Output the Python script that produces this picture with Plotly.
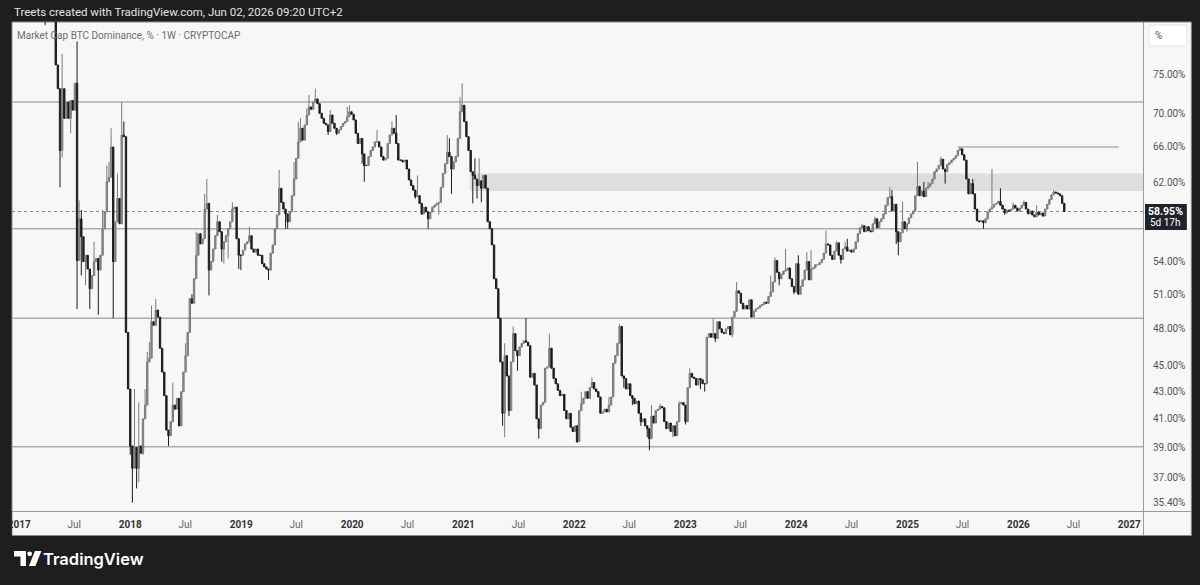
import math
import pandas as pd
import plotly.graph_objects as go

# ---------------- data (weekly candles, BTC dominance %) ----------------
first_week = "2017-03-27"
first_open = 86.0

closes_2017 = [85.5, 85.0, 84.6, 84.0, 83.4, 76.2, 73.1, 65.6, 73.1, 69.4, 71.4, 69.4, 71.6, 70.4,
               73.8, 54.1, 58.2, 56.4, 54.0, 54.6, 53.3, 51.5, 52.7, 54.0, 54.3, 53.2, 54.6, 57.2,
               58.9, 62.1, 62.6, 66.0, 54.0, 57.9, 60.3, 57.7, 67.4, 67.2, 47.7, 43.2]
closes_2018 = [39.1, 37.6, 39.0, 37.6, 39.1, 38.6, 41.0, 42.0, 45.3, 45.6, 48.6, 48.3, 49.6, 49.0,
               46.4, 44.5, 42.7, 40.2, 39.8, 40.8, 42.0, 41.7, 42.5, 40.5, 43.0, 44.5, 45.8, 47.7,
               50.6, 50.2, 52.4, 54.6, 56.7, 55.7, 56.2, 59.2, 59.8, 53.2, 54.0, 55.2, 56.5, 57.9,
               56.9, 55.2, 55.9, 56.5, 57.2, 57.9, 59.2, 59.4, 56.2, 54.6, 54.6]
closes_2019 = [55.1, 55.7, 55.9, 56.5, 55.2, 54.9, 55.2, 54.6, 54.6, 53.8, 53.5, 53.3, 53.2, 54.8,
               55.6, 57.2, 58.6, 61.4, 59.9, 59.2, 58.7, 57.9, 58.9, 60.6, 62.4, 64.7, 66.6, 68.2,
               66.8, 68.6, 69.8, 70.8, 70.5, 71.4, 71.8, 71.2, 70.0, 69.4, 68.8, 68.6, 67.8, 69.8,
               68.8, 68.2, 67.6, 68.0, 68.4, 68.8, 69.0, 69.6, 70.2, 69.9]
closes_2020 = [69.2, 67.6, 66.4, 67.0, 65.2, 63.9, 63.9, 64.9, 65.6, 66.0, 66.6, 66.6, 66.0, 64.9,
               64.5, 64.7, 66.4, 67.4, 68.2, 67.6, 66.4, 64.5, 64.5, 64.3, 64.5, 63.5, 62.3, 61.7,
               61.2, 60.5, 60.6, 59.8, 58.7, 59.4, 58.9, 58.2, 58.9, 59.4, 59.6, 59.8, 59.9, 61.5,
               63.0, 64.1, 65.4, 64.9, 63.5, 64.3, 64.9, 67.0, 70.2, 71.0]
closes_2021 = [69.0, 67.2, 65.6, 63.2, 62.8, 62.4, 61.7, 62.2, 61.4, 62.8, 61.4, 57.9, 57.2, 55.6,
               52.4, 51.5, 48.9, 45.3, 41.4, 45.8, 44.2, 41.6, 45.3, 47.6, 46.2, 45.8, 46.5, 46.8,
               47.0, 46.9, 46.6, 44.1, 44.4, 43.5, 41.0, 40.3, 42.0, 42.2, 44.8, 44.9, 46.4, 44.8,
               44.0, 43.6, 43.1, 42.7, 42.8, 41.6, 41.0, 41.4, 40.4, 40.1]
closes_2022 = [40.5, 39.4, 41.6, 42.1, 42.5, 43.0, 42.5, 43.3, 43.7, 43.2, 43.0, 42.6, 41.4, 41.5,
               41.7, 41.5, 42.0, 42.6, 45.2, 45.8, 46.8, 48.2, 44.2, 44.0, 43.2, 43.6, 42.7, 42.5,
               42.1, 42.3, 41.4, 40.8, 41.0, 40.5, 40.3, 39.6, 41.2, 40.7, 41.6, 41.7, 41.9, 41.8,
               40.8, 40.3, 40.7, 40.1, 40.5, 39.8, 40.8, 42.1, 42.2, 42.0]
closes_2023 = [40.8, 43.3, 44.4, 44.1, 44.0, 43.5, 44.0, 43.9, 43.6, 43.6, 47.3, 47.6, 47.3, 47.6,
               47.2, 48.6, 48.0, 47.7, 47.6, 48.0, 48.2, 47.5, 49.0, 49.5, 51.3, 51.1, 50.2, 49.7,
               50.0, 49.7, 50.5, 49.0, 49.5, 49.7, 49.8, 50.0, 50.1, 50.3, 50.2, 50.8, 51.2, 52.1,
               54.1, 53.0, 52.4, 52.8, 53.1, 53.2, 53.4, 52.4, 51.7, 51.2]
closes_2024 = [53.8, 51.0, 51.7, 52.3, 53.2, 54.0, 52.3, 53.3, 53.4, 53.7, 53.7, 53.9, 54.2, 54.8,
               55.7, 55.6, 54.6, 54.2, 55.0, 55.8, 54.6, 54.2, 55.2, 55.4, 55.0, 55.1, 54.9, 55.2,
               55.9, 56.7, 57.3, 57.5, 56.9, 57.4, 57.0, 56.9, 57.7, 58.2, 57.3, 57.9, 58.2, 58.7,
               59.6, 60.4, 60.5, 59.0, 59.7, 56.9, 55.9, 56.8, 57.9, 57.2, 57.7]
closes_2025 = [58.3, 58.7, 59.0, 60.6, 61.6, 60.6, 61.1, 60.5, 61.4, 61.6, 61.9, 62.4, 63.2, 63.5,
               63.9, 64.6, 63.5, 63.2, 64.0, 64.2, 64.5, 64.7, 65.0, 65.6, 65.8, 65.1, 64.5, 62.4,
               60.8, 61.9, 60.8, 59.2, 58.0, 57.9, 58.0, 57.8, 58.2, 58.9, 59.2, 59.4, 59.7, 59.8,
               60.0, 59.6, 59.2, 58.8, 59.1, 59.0, 59.2, 59.6, 59.3, 59.0]
closes_2026 = [59.3, 59.6, 59.9, 59.2, 58.7, 59.0, 58.6, 58.4, 58.9, 58.6, 58.8, 58.5, 59.2, 59.7,
               60.2, 60.7, 61.0, 60.9, 60.8, 60.6, 59.8, 58.95]

# wicks that reach beyond the candle body (week start -> value)
wick_highs = {
    "2017-05-22": 77.7, "2017-07-10": 79.4, "2017-07-17": 60.1, "2017-07-24": 59.1,
    "2017-09-04": 55.9, "2017-10-02": 59.1, "2017-10-16": 63.9, "2017-10-23": 64.3,
    "2017-10-30": 68.2, "2017-11-20": 63.0, "2017-12-04": 71.4, "2017-12-11": 69.0,
    "2018-01-15": 43.2, "2018-01-29": 42.2, "2018-02-19": 43.2, "2018-02-26": 46.1,
    "2018-03-05": 46.9, "2018-03-12": 50.0, "2018-03-26": 50.6, "2018-05-21": 43.7,
    "2018-07-02": 46.8, "2018-07-23": 51.0, "2018-08-06": 56.9, "2018-09-03": 60.8,
    "2018-09-10": 62.4, "2018-10-15": 58.6, "2018-12-03": 59.9,
    "2019-01-28": 57.4, "2019-05-06": 63.4, "2019-06-24": 64.3, "2019-07-08": 69.0,
    "2019-07-15": 69.4, "2019-08-05": 70.6, "2019-08-12": 72.3, "2019-09-02": 73.1,
    "2019-10-21": 70.4, "2019-12-16": 70.8, "2019-12-23": 71.0,
    "2020-03-23": 68.0, "2020-05-11": 69.0, "2020-05-25": 69.8, "2020-08-03": 62.8,
    "2020-11-09": 67.4, "2020-11-16": 67.0, "2020-12-21": 72.0, "2020-12-28": 73.8,
    "2021-02-08": 64.7, "2021-02-22": 64.7, "2021-05-17": 46.8, "2021-06-14": 48.2,
    "2021-07-26": 48.9, "2021-10-11": 47.6,
    "2022-01-24": 43.0, "2022-02-28": 44.1, "2022-04-25": 42.6, "2022-05-30": 48.4,
    "2022-09-12": 42.0, "2022-10-10": 42.1, "2022-12-12": 42.3,
    "2023-01-16": 44.8, "2023-04-03": 48.9, "2023-06-19": 52.1, "2023-10-09": 52.7,
    "2023-10-23": 54.4, "2023-11-27": 55.2,
    "2024-01-08": 54.6, "2024-02-05": 54.9, "2024-02-19": 55.1, "2024-04-08": 57.0,
    "2024-05-13": 56.0, "2024-06-10": 55.9, "2024-06-17": 56.2, "2024-08-05": 57.7,
    "2024-09-16": 58.4, "2024-11-04": 61.5, "2024-11-11": 61.2, "2024-12-16": 60.0,
    "2025-02-03": 64.3, "2025-02-24": 62.1, "2025-03-10": 62.1, "2025-04-21": 64.9,
    "2025-06-23": 66.0, "2025-08-04": 62.4, "2025-10-06": 63.5, "2025-11-03": 61.4,
    "2025-12-15": 59.9,
    "2026-01-19": 60.1, "2026-03-02": 59.6, "2026-04-27": 61.2,
}
wick_lows = {
    "2017-03-27": 81.7, "2017-05-15": 61.5, "2017-05-22": 64.8, "2017-06-19": 67.6,
    "2017-07-10": 49.7, "2017-07-24": 52.7, "2017-08-07": 51.8, "2017-08-21": 49.7,
    "2017-09-18": 49.2, "2017-11-06": 48.9,
    "2018-01-01": 38.5, "2018-01-08": 35.4, "2018-01-22": 36.3, "2018-01-29": 36.7,
    "2018-02-12": 38.5, "2018-05-07": 39.1, "2018-09-17": 50.9, "2018-10-29": 54.0,
    "2018-11-05": 53.8, "2018-11-19": 54.3, "2018-12-24": 53.3, "2018-12-31": 53.2,
    "2019-04-01": 52.3, "2019-05-27": 57.2, "2019-06-03": 57.2, "2019-10-14": 67.4,
    "2019-11-11": 67.4,
    "2020-02-03": 64.1, "2020-02-10": 62.1, "2020-07-27": 60.3, "2020-08-17": 58.6,
    "2020-09-07": 57.2, "2020-10-12": 58.6, "2020-11-23": 60.8,
    "2021-02-01": 59.8, "2021-02-15": 60.3, "2021-03-01": 59.9, "2021-05-10": 40.5,
    "2021-05-17": 39.7, "2021-05-31": 41.2, "2021-06-28": 44.6, "2021-09-06": 39.6,
    "2022-01-10": 39.3, "2022-06-13": 43.3, "2022-07-11": 42.0, "2022-08-08": 40.5,
    "2022-08-29": 39.7, "2022-09-05": 38.8, "2022-11-21": 39.7,
    "2023-01-02": 40.6, "2023-02-20": 43.2, "2023-03-06": 43.0, "2023-04-10": 46.9,
    "2023-06-05": 47.3, "2023-11-06": 51.8, "2023-12-25": 51.0,
    "2024-05-27": 53.8, "2024-11-25": 55.7, "2024-12-02": 54.6, "2024-12-30": 56.9,
    "2025-05-05": 61.9, "2025-09-08": 57.2, "2025-11-17": 58.6,
    "2026-03-23": 58.4,
}

y_tick_values = [75, 70, 66, 62, 54, 51, 48, 45, 43, 41, 39, 37, 35.4]
y_tick_labels = ["75.00%", "70.00%", "66.00%", "62.00%", "54.00%", "51.00%", "48.00%",
                 "45.00%", "43.00%", "41.00%", "39.00%", "37.00%", "35.40%"]
x_tick_dates = ["2017-01-01", "2017-07-01", "2018-01-01", "2018-07-01", "2019-01-01",
                "2019-07-01", "2020-01-01", "2020-07-01", "2021-01-01", "2021-07-01",
                "2022-01-01", "2022-07-01", "2023-01-01", "2023-07-01", "2024-01-01",
                "2024-07-01", "2025-01-01", "2025-07-01", "2026-01-01", "2026-07-01",
                "2027-01-01"]
x_tick_labels = ["2017", "Jul", "2018", "Jul", "2019", "Jul", "2020", "Jul", "2021", "Jul",
                 "2022", "Jul", "2023", "Jul", "2024", "Jul", "2025", "Jul", "2026", "Jul",
                 "2027"]

levels = [71.4, 57.2, 48.9, 39.05]
zone_low, zone_high = 61.1, 63.0
zone_start = "2021-01-22"
top_line_value = 66.0
top_line_start, top_line_end = "2025-06-16", "2026-11-27"
last_value = 58.95
x_start, x_end = "2016-12-08", "2027-02-15"
y_min, y_max = 34.89, 82.15

# ---------------- build candles ----------------
closes = (closes_2017 + closes_2018 + closes_2019 + closes_2020 + closes_2021 +
          closes_2022 + closes_2023 + closes_2024 + closes_2025 + closes_2026)
dates = pd.date_range(first_week, periods=len(closes), freq="7D")
opens = [first_open] + closes[:-1]
highs = [max(o, c) for o, c in zip(opens, closes)]
lows = [min(o, c) for o, c in zip(opens, closes)]
for d, v in wick_highs.items():
    i = int(round((pd.Timestamp(d) - dates[0]).days / 7))
    if 0 <= i < len(highs):
        highs[i] = max(highs[i], v)
for d, v in wick_lows.items():
    i = int(round((pd.Timestamp(d) - dates[0]).days / 7))
    if 0 <= i < len(lows):
        lows[i] = min(lows[i], v)

# ---------------- figure ----------------
W, H = 1200, 585
L, R, T, B = 8, 1143, 22, 511
FRAME = "#1e1e1e"
PANEL = "#f7f7f7"
FONT = "Roboto, Liberation Sans, sans-serif"


def px(x):
    return (x - L) / (R - L)


def py(y):
    return (B - y) / (B - T)


fig = go.Figure()
fig.add_trace(go.Candlestick(
    x=dates, open=opens, high=highs, low=lows, close=closes,
    increasing=dict(line=dict(color="#7a7a7a", width=1), fillcolor="#8e8e8e"),
    decreasing=dict(line=dict(color="#1a1a1a", width=1), fillcolor="#222222"),
    whiskerwidth=0, hoverinfo="skip", showlegend=False,
))

shapes = []
# light chart panel
shapes.append(dict(type="rect", xref="paper", yref="paper", x0=px(8), x1=px(1191.5),
                   y0=py(535.5), y1=py(22), fillcolor=PANEL,
                   line=dict(color="#8a8a8a", width=1), layer="below"))
# zone band
shapes.append(dict(type="rect", xref="x", yref="y", x0=zone_start, x1=x_end,
                   y0=zone_low, y1=zone_high, fillcolor="#dedede", line=dict(width=0),
                   layer="below"))
# horizontal levels
for lv in levels:
    shapes.append(dict(type="line", xref="paper", yref="y", x0=0, x1=1, y0=lv, y1=lv,
                       line=dict(color="#acacac", width=1.5), layer="below"))
# short top line
shapes.append(dict(type="line", xref="x", yref="y", x0=top_line_start, x1=top_line_end,
                   y0=top_line_value, y1=top_line_value,
                   line=dict(color="#b0b0b0", width=1.5), layer="below"))
# last price dotted line
shapes.append(dict(type="line", xref="paper", yref="y", x0=0, x1=1, y0=last_value,
                   y1=last_value, line=dict(color="#8a8a8a", width=1, dash="dot"),
                   layer="below"))
# axis separators
shapes.append(dict(type="line", xref="paper", yref="paper", x0=px(1143.5), x1=px(1143.5),
                   y0=py(535), y1=py(22), line=dict(color="#9a9a9a", width=1), layer="above"))
shapes.append(dict(type="line", xref="paper", yref="paper", x0=px(8), x1=px(1191),
                   y0=py(511.5), y1=py(511.5), line=dict(color="#9a9a9a", width=1),
                   layer="above"))
# cover the clipped part of the first time label
shapes.append(dict(type="rect", xref="paper", yref="paper", x0=px(0), x1=px(7.5),
                   y0=py(540), y1=py(511), fillcolor=FRAME, line=dict(width=0), layer="above"))
# price label box
shapes.append(dict(type="rect", xref="paper", yref="paper", x0=px(1145), x1=px(1187),
                   y0=py(230), y1=py(204), fillcolor="#1f222a", line=dict(width=0),
                   layer="above"))
# "%" button
shapes.append(dict(type="rect", xref="paper", yref="paper", x0=px(1149), x1=px(1187),
                   y0=py(46), y1=py(25), fillcolor="#ffffff",
                   line=dict(color="#e6e6e6", width=1), layer="above"))


# TradingView logo
def ppath(pts):
    s = "M " + " L ".join(f"{px(x):.5f},{py(y):.5f}" for x, y in pts) + " Z"
    return s


shapes.append(dict(type="path", xref="paper", yref="paper",
                   path=ppath([(10, 551), (22, 551), (22, 566), (16.5, 566), (16.5, 556.5),
                               (10, 556.5)]),
                   fillcolor="#ffffff", line=dict(width=0), layer="above"))
shapes.append(dict(type="circle", xref="paper", yref="paper", x0=px(23.3), x1=px(28.1),
                   y0=py(556.2), y1=py(551.4), fillcolor="#ffffff", line=dict(width=0),
                   layer="above"))
shapes.append(dict(type="path", xref="paper", yref="paper",
                   path=ppath([(31, 551), (37.5, 551), (31.5, 566), (25, 566)]),
                   fillcolor="#ffffff", line=dict(width=0), layer="above"))

annotations = [
    dict(xref="paper", yref="paper", x=px(8), y=py(12), xanchor="left", yanchor="middle",
         text="Treets created with TradingView.com, Jun 02, 2026 09:20 UTC+2",
         showarrow=False, font=dict(family=FONT, size=11.5, color="#e4e4e4")),
    dict(xref="paper", yref="paper", x=px(11), y=py(35), xanchor="left", yanchor="middle",
         text="Market Cap BTC Dominance, % · 1W · CRYPTOCAP", showarrow=False,
         font=dict(family=FONT, size=10, color="#6e6e6e")),
    dict(xref="paper", yref="paper", x=px(1166), y=py(211.5), xanchor="center",
         yanchor="middle", text="<b>58.95%</b>", showarrow=False,
         font=dict(family=FONT, size=10.5, color="#ffffff")),
    dict(xref="paper", yref="paper", x=px(1166), y=py(223), xanchor="center",
         yanchor="middle", text="5d 17h", showarrow=False,
         font=dict(family=FONT, size=10, color="#ffffff")),
    dict(xref="paper", yref="paper", x=px(1159), y=py(36), xanchor="center",
         yanchor="middle", text="%", showarrow=False,
         font=dict(family=FONT, size=10, color="#555555")),
    dict(xref="paper", yref="paper", x=px(37), y=py(559), xanchor="left",
         yanchor="middle", text="TradingView", showarrow=False,
         font=dict(family="Inter, Roboto, sans-serif", size=16.5, color="#ffffff", weight=600)),
]

x_ticktext = [f"<b>{t}</b>" if t != "Jul" else "<span style='color:#666'>Jul</span>"
              for t in x_tick_labels]

fig.update_layout(
    width=W, height=H,
    margin=dict(l=L, r=W - R, t=T, b=H - B, pad=0),
    paper_bgcolor=FRAME, plot_bgcolor=PANEL,
    shapes=shapes, annotations=annotations, showlegend=False,
    boxgap=0.1,
    font=dict(family=FONT, size=10, color="#444444"),
    xaxis=dict(type="date", range=[x_start, x_end], rangeslider=dict(visible=False),
               showgrid=False, zeroline=False, showline=False, ticks="",
               tickmode="array", tickvals=x_tick_dates, ticktext=x_ticktext,
               tickfont=dict(family=FONT, size=10, color="#333333"),
               ticklabelstandoff=6, fixedrange=True),
    yaxis=dict(type="log", range=[math.log10(y_min), math.log10(y_max)], side="right",
               showgrid=False, zeroline=False, showline=False, ticks="",
               tickmode="array", tickvals=y_tick_values, ticktext=y_tick_labels,
               tickfont=dict(family=FONT, size=10, color="#555555"),
               ticklabelstandoff=9, fixedrange=True),
)

fig.write_html("out.html")
